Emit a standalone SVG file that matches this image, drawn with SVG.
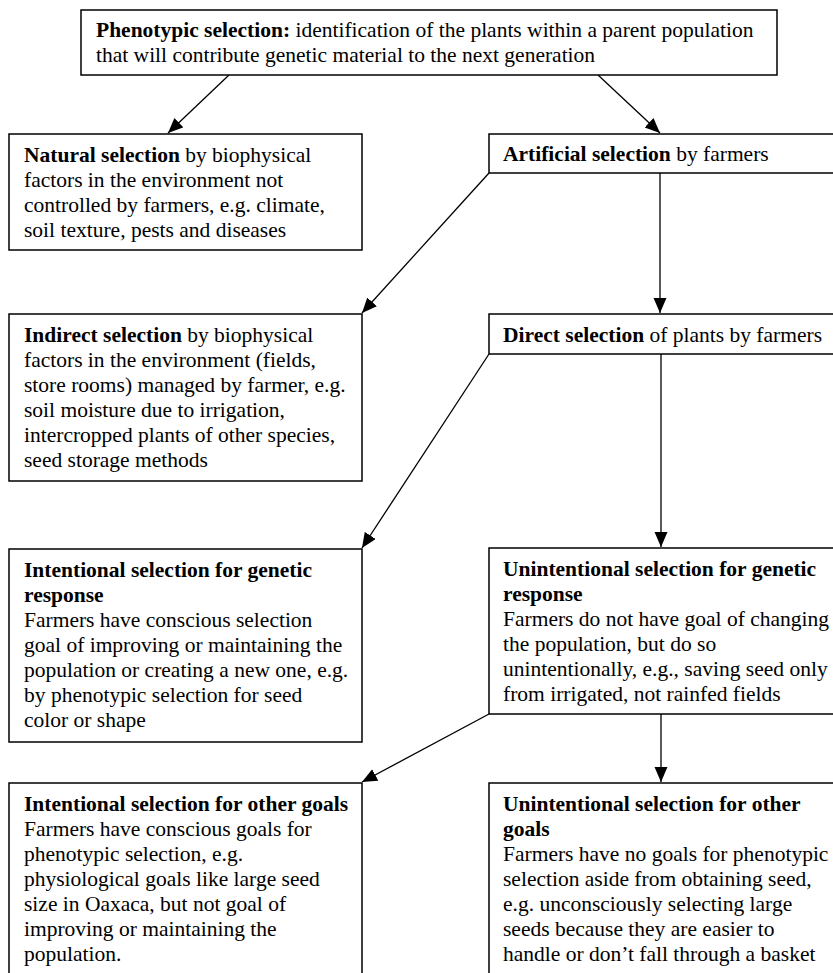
<svg xmlns="http://www.w3.org/2000/svg" width="833" height="973" viewBox="0 0 833 973">
<defs>
<style>
.box{fill:#fff;stroke:#000;stroke-width:1.5}
.t{font-family:"Liberation Serif","Times New Roman",serif;font-size:21.5px;fill:#000}
.b{font-weight:bold}
.c{stroke:#000;stroke-width:1.3;fill:none;marker-end:url(#ah)}
</style>
<marker id="ah" markerUnits="userSpaceOnUse" markerWidth="16" markerHeight="14" refX="15" refY="6.5" orient="auto">
<path d="M0,0 L15,6.5 L0,13 z" fill="#000"/>
</marker>
</defs>
<rect width="833" height="973" fill="#fff"/>
<g id="connectors">
<line class="c" x1="229" y1="75" x2="168" y2="133"/>
<line class="c" x1="598" y1="75" x2="660" y2="133"/>
<line class="c" x1="489" y1="173" x2="362" y2="313"/>
<line class="c" x1="660" y1="173" x2="660" y2="313"/>
<line class="c" x1="489" y1="354" x2="362" y2="548"/>
<line class="c" x1="661" y1="354" x2="661" y2="547"/>
<line class="c" x1="489" y1="714" x2="362" y2="782"/>
<line class="c" x1="661" y1="714" x2="661" y2="782"/>
</g>
<g id="phenotypic">
<rect class="box" x="81" y="10" width="696" height="65"/>
<text class="t" x="96" y="37"><tspan class="b">Phenotypic selection:</tspan> identification of the plants within a parent population</text>
<text class="t" x="96" y="62">that will contribute genetic material to the next generation</text>
</g>
<g id="natural">
<rect class="box" x="9" y="134" width="353" height="116"/>
<text class="t" x="24" y="162"><tspan class="b">Natural selection</tspan> by biophysical</text>
<text class="t" x="24" y="187">factors in the environment not</text>
<text class="t" x="24" y="212">controlled by farmers, e.g. climate,</text>
<text class="t" x="24" y="237">soil texture, pests and diseases</text>
</g>
<g id="artificial">
<rect class="box" x="489" y="134" width="346" height="39"/>
<text class="t" x="503" y="161"><tspan class="b">Artificial selection</tspan> by farmers</text>
</g>
<g id="indirect">
<rect class="box" x="9" y="314" width="353" height="167"/>
<text class="t" x="24" y="342"><tspan class="b">Indirect selection</tspan> by biophysical</text>
<text class="t" x="24" y="367">factors in the environment (fields,</text>
<text class="t" x="24" y="392">store rooms) managed by farmer, e.g.</text>
<text class="t" x="24" y="417">soil moisture due to irrigation,</text>
<text class="t" x="24" y="442">intercropped plants of other species,</text>
<text class="t" x="24" y="467">seed storage methods</text>
</g>
<g id="direct">
<rect class="box" x="489" y="314" width="346" height="40"/>
<text class="t" x="503" y="342"><tspan class="b">Direct selection</tspan> of plants by farmers</text>
</g>
<g id="intentional-genetic">
<rect class="box" x="9" y="549" width="353" height="193"/>
<text class="t b" x="24" y="577">Intentional selection for genetic</text>
<text class="t b" x="24" y="602">response</text>
<text class="t" x="24" y="627">Farmers have conscious selection</text>
<text class="t" x="24" y="652">goal of improving or maintaining the</text>
<text class="t" x="24" y="677">population or creating a new one, e.g.</text>
<text class="t" x="24" y="702">by phenotypic selection for seed</text>
<text class="t" x="24" y="727">color or shape</text>
</g>
<g id="unintentional-genetic">
<rect class="box" x="489" y="548" width="346" height="166"/>
<text class="t b" x="503" y="576">Unintentional selection for genetic</text>
<text class="t b" x="503" y="601">response</text>
<text class="t" x="503" y="626">Farmers do not have goal of changing</text>
<text class="t" x="503" y="651">the population, but do so</text>
<text class="t" x="503" y="676">unintentionally, e.g., saving seed only</text>
<text class="t" x="503" y="701">from irrigated, not rainfed fields</text>
</g>
<g id="intentional-other">
<rect class="box" x="9" y="783" width="353" height="200"/>
<text class="t b" x="24" y="811">Intentional selection for other goals</text>
<text class="t" x="24" y="836">Farmers have conscious goals for</text>
<text class="t" x="24" y="861">phenotypic selection, e.g.</text>
<text class="t" x="24" y="886">physiological goals like large seed</text>
<text class="t" x="24" y="911">size in Oaxaca, but not goal of</text>
<text class="t" x="24" y="936">improving or maintaining the</text>
<text class="t" x="24" y="961">population.</text>
</g>
<g id="unintentional-other">
<rect class="box" x="489" y="783" width="346" height="200"/>
<text class="t b" x="503" y="811">Unintentional selection for other</text>
<text class="t b" x="503" y="836">goals</text>
<text class="t" x="503" y="861">Farmers have no goals for phenotypic</text>
<text class="t" x="503" y="886">selection aside from obtaining seed,</text>
<text class="t" x="503" y="911">e.g. unconsciously selecting large</text>
<text class="t" x="503" y="936">seeds because they are easier to</text>
<text class="t" x="503" y="961">handle or don’t fall through a basket</text>
</g>
</svg>
